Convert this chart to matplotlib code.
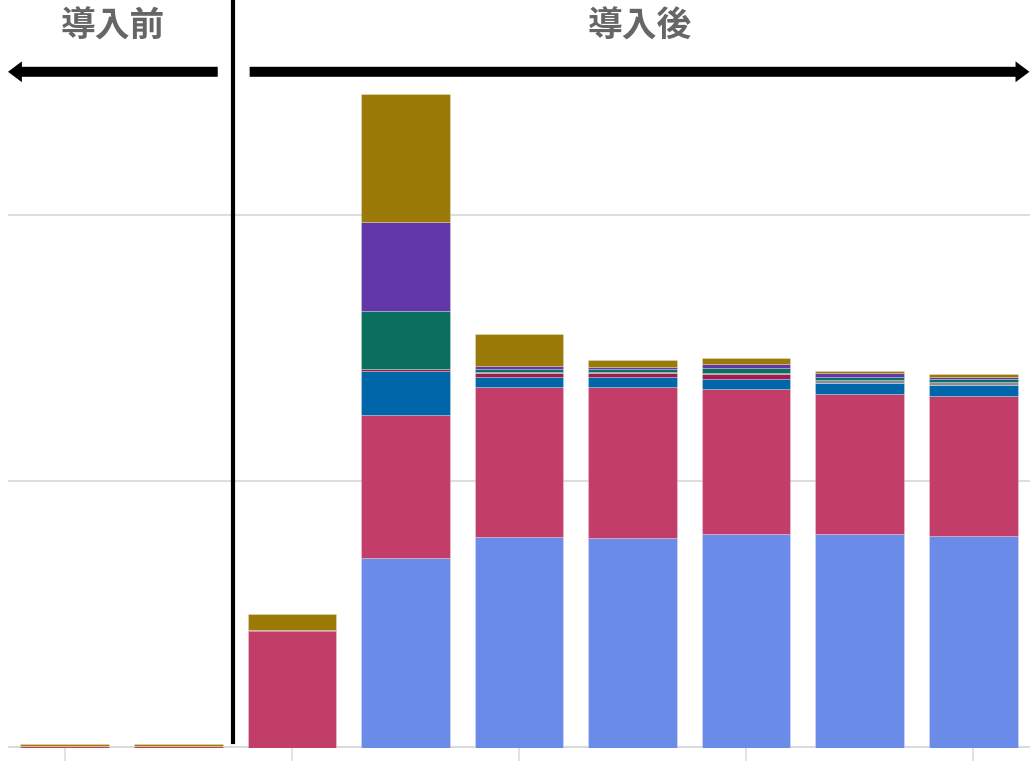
import numpy as np
import matplotlib.pyplot as plt
from matplotlib.patches import FancyArrowPatch

plt.rcParams['font.family'] = ['Noto Sans CJK JP', 'DejaVu Sans']

# values per bar (one gridline = 100)
cornflower = [0, 0, 0, 71.3, 79.2, 78.8, 80.3, 80.3, 79.5]
pink = [0.8, 0.8, 43.9, 53.7, 56.3, 56.7, 54.4, 52.5, 52.5]
blue = [0, 0, 0, 16.5, 3.75, 3.75, 3.75, 4.1, 4.1]
darkred = [0, 0, 0.4, 0.8, 1.3, 1.3, 1.9, 0, 0]
gray = [0, 0, 0, 0, 0.5, 0.6, 0.5, 1.1, 1.1]
teal = [0, 0, 0, 21.8, 1.1, 0.9, 1.9, 1.1, 1.1]
purple = [0, 0, 0, 33.4, 1.1, 0.75, 1.5, 1.5, 0.75]
gold = [0.6, 0.6, 6.0, 48.0, 12.1, 2.6, 1.9, 0.9, 1.1]

series = [cornflower, pink, blue, darkred, gray, teal, purple, gold]
colors = ["#6a8be8", "#c23e68", "#0066aa", "#9c1c4c", "#8c8a9c",
          "#0b6e5e", "#6238a8", "#9c7a08"]

fig = plt.figure(figsize=(10.32, 7.72), dpi=100)
ax = fig.add_axes([8 / 1032, 24 / 772, 1022 / 1032, 693 / 772])

x = np.arange(len(cornflower))
bottom = np.zeros(len(x))
for vals, c in zip(series, colors):
    ax.bar(x, vals, width=0.78, bottom=bottom, color=c,
           edgecolor=(1, 1, 1, 0.35), linewidth=0.5, zorder=3)
    bottom += np.array(vals)

ax.set_xlim(-0.5, 8.5)
ax.set_ylim(0, 260)
ax.set_yticks([])
for y in [100, 200]:
    ax.axhline(y, color="#dddddd", lw=1.5, zorder=1)
ax.axhline(0, color="#d8dcdc", lw=3, zorder=2)
for s in ax.spines.values():
    s.set_visible(False)
ax.set_xticks([0, 2, 4, 6, 8])
ax.set_xticklabels([])
ax.tick_params(axis="x", length=9, width=1.2, color="#dddddd")

# divider
ax.plot([1.48, 1.48], [2.3, 281], color="black", lw=3, clip_on=False, zorder=5)

# arrows
for x0, x1 in [(1.347, -0.50), (1.628, 8.495)]:
    arr = FancyArrowPatch((x0, 253.7), (x1, 253.7),
                          arrowstyle="simple,head_width=1.5,head_length=1.0,tail_width=0.72",
                          mutation_scale=10, color="black", lw=0, clip_on=False,
                          shrinkA=0, shrinkB=0)
    ax.add_patch(arr)

ax.text(0.42, 271, "導入前", ha="center", va="center", fontsize=25,
        fontweight="bold", color="#666666")
ax.text(5.06, 271, "導入後", ha="center", va="center", fontsize=25,
        fontweight="bold", color="#666666")

fig.savefig("out.png", dpi=100)
